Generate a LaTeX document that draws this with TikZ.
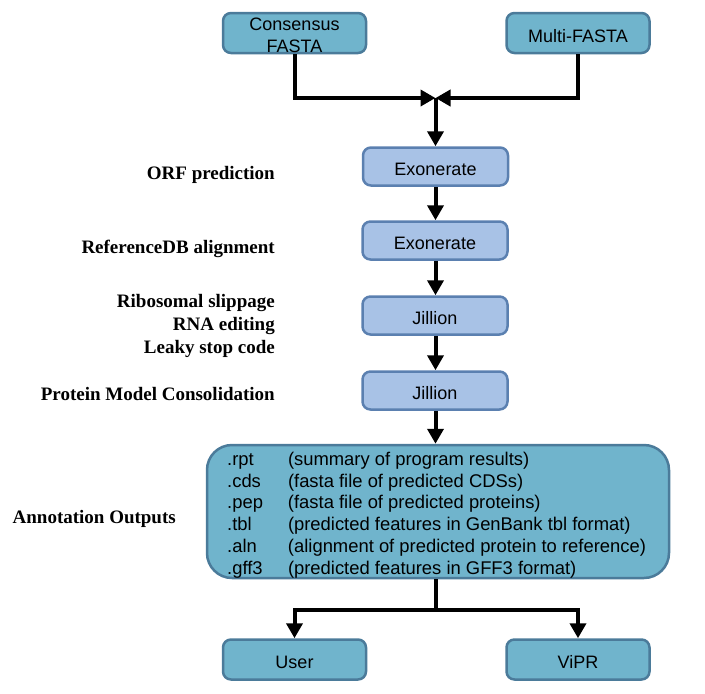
\documentclass[tikz,border=0pt]{standalone}
\usepackage{fontspec}
\setmainfont{Liberation Serif}
\setsansfont{Liberation Sans}
\usetikzlibrary{arrows.meta,positioning}
\definecolor{tealfill}{HTML}{70B4CC}
\definecolor{tealdraw}{HTML}{4B7B9A}
\definecolor{lightfill}{HTML}{A8C2E6}
\definecolor{lightdraw}{HTML}{5B80B0}
\tikzset{
  boxfont/.style={font=\sffamily\fontsize{18}{22}\selectfont},
  tealbox/.style={draw=tealdraw, fill=tealfill, line width=2.5pt, rounded corners=8pt,
    minimum width=143pt, minimum height=40pt, inner sep=0pt, align=center,
    text height=18pt, text depth=0pt, boxfont},
  lightbox/.style={draw=lightdraw, fill=lightfill, line width=2.5pt, rounded corners=8pt,
    minimum width=145pt, minimum height=38pt, inner sep=0pt, align=center,
    text height=18pt, text depth=0pt, boxfont},
  steplabel/.style={anchor=base east, align=right, inner sep=0pt,
    font=\bfseries\fontsize{19}{23}\selectfont},
  arr/.style={line width=4pt, -{Triangle[length=15pt,width=16pt]}},
  plain/.style={line width=4pt},
}
\begin{document}
\begin{tikzpicture}[x=1pt,y=-1pt]
\useasboundingbox (0,0) rectangle (705,694);
% top inputs
\node[tealbox] (cons) at (294.5,33) {};
\node[boxfont, align=center, inner sep=0pt] (constext) at (294.5,35) {Consensus\\FASTA};
\node[tealbox] (multi) at (578,33) {Multi-FASTA};
% process boxes
\node[lightbox] (exon1) at (435.5,166.5) {Exonerate};
\node[lightbox] (exon2) at (435,240.5) {Exonerate};
\node[lightbox] (jill1) at (435,315.5) {Jillion};
\node[lightbox] (jill2) at (435,390.5) {Jillion};
% outputs box
\node[draw=tealdraw, fill=tealfill, line width=2.5pt, rounded corners=25pt,
  minimum width=462pt, minimum height=133pt, inner sep=0pt] (out) at (438,511.5) {};
\node[anchor=west, inner sep=0pt, align=left, font=\sffamily\fontsize{18.4}{21.7}\selectfont] (outtext) at (227,515.5)
  {\begin{tabular}{@{}l@{\hspace{25pt}}l@{}}
  .rpt & (summary of program results)\\
  .cds & (fasta file of predicted CDSs)\\
  .pep & (fasta file of predicted proteins)\\
  .tbl & (predicted features in GenBank tbl format)\\
  .aln & (alignment of predicted protein to reference)\\
  .gff3 & (predicted features in GFF3 format)
  \end{tabular}};
% final destinations
\node[tealbox] (user) at (294.5,659.5) {User};
\node[tealbox] (vipr) at (578,659.5) {ViPR};
% left labels
\node[steplabel] (l1) at (275,179) {ORF prediction};
\node[steplabel] (l2) at (275,253) {ReferenceDB alignment};
\node[steplabel] (l3a) at (275,307) {Ribosomal slippage};
\node[steplabel] (l3b) at (275,330) {RNA editing};
\node[steplabel] (l3c) at (275,353) {Leaky stop code};
\node[steplabel] (l4) at (275,400) {Protein Model Consolidation};
\node[steplabel] (l5) at (176,523) {Annotation Outputs};
% connectors
\coordinate (merge) at (435.5,98);
\coordinate (split) at (435.5,610);
\draw[arr] (cons.south) |- (merge);
\draw[arr] (multi.south) |- (merge);
\draw[arr] (merge) -- (merge |- exon1.north);
\draw[arr] (exon1.south -| merge) -- (merge |- exon2.north);
\draw[arr] (exon2.south -| merge) -- (merge |- jill1.north);
\draw[arr] (jill1.south -| merge) -- (merge |- jill2.north);
\draw[arr] (jill2.south -| merge) -- (merge |- out.north);
\draw[plain] (split |- out.south) -- (split);
\draw[arr] (split) -| (user.north);
\draw[arr] (split) -| (vipr.north);
\end{tikzpicture}
\end{document}
